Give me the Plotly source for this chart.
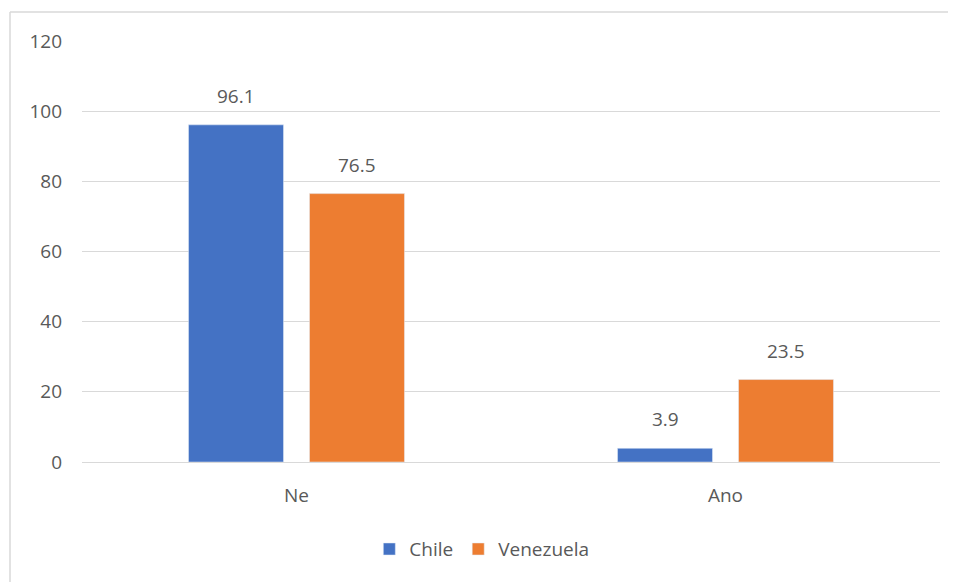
import plotly.graph_objects as go

categories = ["Ne", "Ano"]
chile = [96.1, 3.9]
venezuela = [76.5, 23.5]
y_ticks = [0, 20, 40, 60, 80, 100, 120]

font_family = "Open Sans, Noto Sans, sans-serif"
text_color = "#595959"
fsize = 19

fig = go.Figure()
fig.add_trace(go.Bar(name="Chile", x=categories, y=chile, marker=dict(color="#4472C4")))
fig.add_trace(go.Bar(name="Venezuela", x=categories, y=venezuela, marker=dict(color="#ED7D31")))

# value labels above bars
slot_offset = 60.5
annotations = []
for vals, shift in ((chile, -slot_offset), (venezuela, slot_offset)):
    for c, v in zip(categories, vals):
        annotations.append(dict(x=c, y=v, xref="x", yref="y", text=f"{v:.1f}",
                                showarrow=False, xshift=shift, yshift=29,
                                yanchor="middle", xanchor="center",
                                font=dict(size=fsize, color=text_color)))

x0 = (10 - 82) / 858
x1 = (956 - 82) / 858
y_top = (462 - 12) / 421
y_bot = (462 - 582) / 421

fig.update_layout(
    width=948, height=574,
    margin=dict(l=74, r=16, t=33, b=120),
    paper_bgcolor="white", plot_bgcolor="white",
    barmode="group", bargap=0.436, bargroupgap=0.215,
    font=dict(family=font_family, size=fsize, color=text_color),
    showlegend=True,
    legend=dict(orientation="h", x=0.466, xanchor="center", y=-0.207, yanchor="middle",
                font=dict(size=fsize, color=text_color), traceorder="normal"),
    annotations=annotations,
    shapes=[
        dict(type="line", xref="paper", yref="paper", x0=x0, x1=x1, y0=y_top, y1=y_top,
             line=dict(color="#d9d9d9", width=1.5)),
        dict(type="line", xref="paper", yref="paper", x0=x0, x1=x0, y0=y_top, y1=y_bot,
             line=dict(color="#d9d9d9", width=1.5)),
    ],
)
fig.update_yaxes(range=[0, 120], tickvals=y_ticks, showgrid=True, gridcolor="#d9d9d9",
                 gridwidth=1, zeroline=False, showline=False, ticks="",
                 tickfont=dict(size=fsize, color=text_color), ticklabelstandoff=19)
fig.update_xaxes(showline=True, linecolor="#d9d9d9", linewidth=1, ticks="",
                 tickfont=dict(size=fsize, color=text_color), ticklabelstandoff=16)

fig.write_html("out.html")
